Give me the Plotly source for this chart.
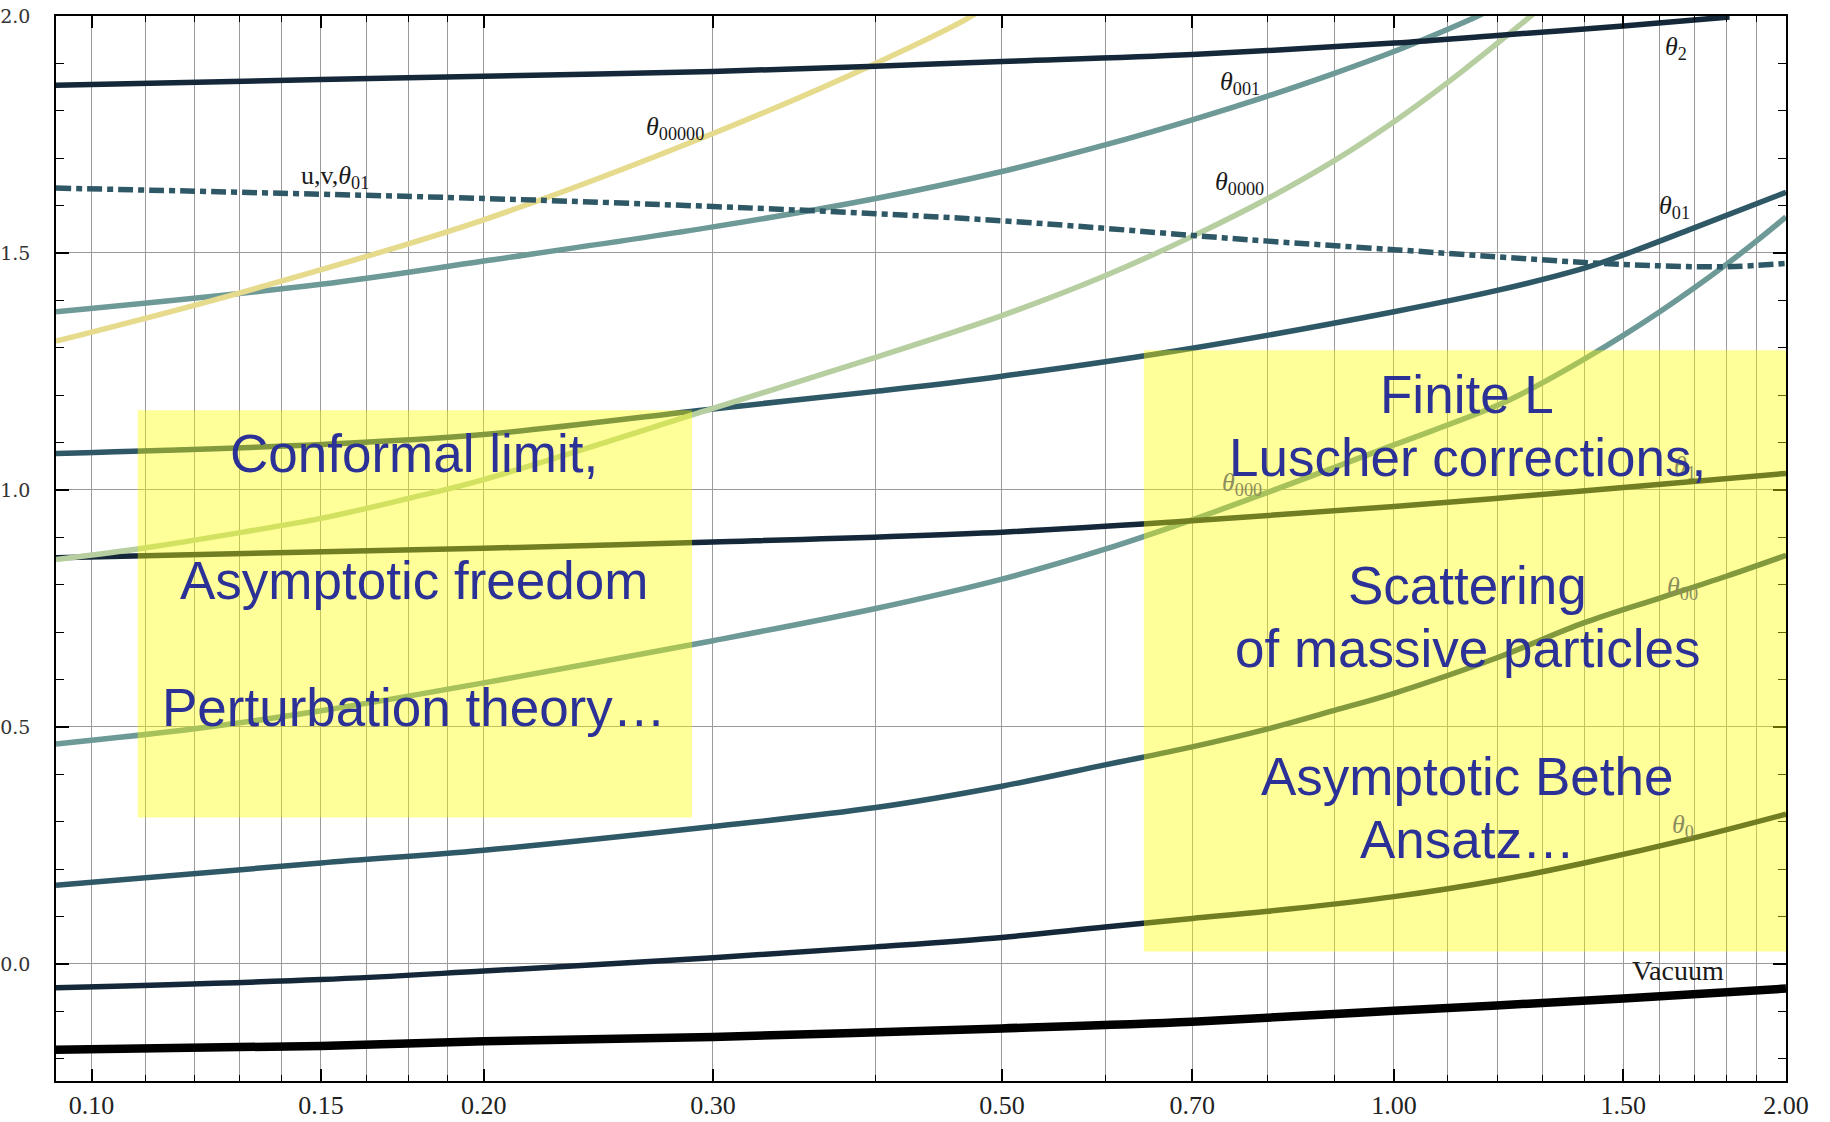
import math
import plotly.graph_objects as go

# ---------------- data ----------------
x_theta2 = [0.0939, 0.15, 0.2, 0.3, 0.4, 0.5, 0.7, 1.0, 1.2, 1.5, 1.81]
y_theta2 = [1.854, 1.866, 1.873, 1.883, 1.894, 1.904, 1.919, 1.943, 1.959, 1.979, 1.998]

x_uv = [0.0939, 0.2, 0.3, 0.4, 0.5, 0.6, 0.7, 0.8, 1.0, 1.2, 1.4, 1.6, 1.8, 2.0]
y_uv = [1.637, 1.615, 1.598, 1.583, 1.568, 1.552, 1.537, 1.525, 1.507, 1.492, 1.480, 1.473, 1.471, 1.478]

x_t00000 = [0.0939, 0.13, 0.2, 0.3, 0.4, 0.474, 0.49]
y_t00000 = [1.314, 1.416, 1.570, 1.752, 1.900, 2.0, 2.03]

x_t001 = [0.0939, 0.15, 0.2, 0.3, 0.4, 0.5, 0.6, 0.7, 0.8, 0.9, 1.0, 1.1, 1.16, 1.18]
y_t001 = [1.376, 1.434, 1.483, 1.555, 1.615, 1.672, 1.728, 1.781, 1.831, 1.879, 1.925, 1.972, 2.0, 2.01]

x_t0000 = [0.0939, 0.11, 0.13, 0.15, 0.175, 0.2, 0.3, 0.4, 0.5, 0.6, 0.7, 0.8, 0.9, 1.0, 1.1, 1.2, 1.3]
y_t0000 = [0.853, 0.878, 0.910, 0.940, 0.982, 1.022, 1.172, 1.280, 1.368, 1.452, 1.535, 1.615, 1.695, 1.777, 1.860, 1.942, 2.02]

x_t01 = [0.0939, 0.15, 0.2, 0.3, 0.4, 0.5, 0.7, 1.0, 1.2, 1.4, 1.5, 1.7, 2.0]
y_t01 = [1.077, 1.096, 1.117, 1.171, 1.208, 1.240, 1.299, 1.376, 1.421, 1.468, 1.496, 1.553, 1.628]

x_t1 = [0.0939, 0.2, 0.3, 0.5, 0.7, 1.0, 1.5, 2.0]
y_t1 = [0.857, 0.877, 0.890, 0.911, 0.935, 0.965, 1.005, 1.035]

x_t000 = [0.0939, 0.12, 0.15, 0.2, 0.3, 0.4, 0.5, 0.6, 0.7, 0.8, 1.0, 1.2, 1.3, 1.4, 1.5, 1.6, 1.7, 1.8, 1.9, 2.0]
y_t000 = [0.464, 0.496, 0.534, 0.593, 0.682, 0.750, 0.812, 0.875, 0.937, 0.995, 1.095, 1.178, 1.226, 1.276, 1.326, 1.376, 1.426, 1.476, 1.526, 1.576]

x_t00 = [0.0939, 0.15, 0.2, 0.3, 0.4, 0.5, 0.6, 0.7, 0.8, 0.9, 1.0, 1.2, 1.4, 1.6, 1.8, 2.0]
y_t00 = [0.166, 0.213, 0.240, 0.290, 0.330, 0.375, 0.420, 0.458, 0.496, 0.535, 0.571, 0.646, 0.720, 0.772, 0.818, 0.862]

x_t0 = [0.0939, 0.15, 0.2, 0.3, 0.4, 0.5, 0.6, 0.7, 0.8, 1.0, 1.2, 1.4, 1.7, 2.0]
y_t0 = [-0.050, -0.033, -0.015, 0.013, 0.036, 0.056, 0.078, 0.096, 0.111, 0.142, 0.176, 0.213, 0.266, 0.316]

x_vac = [0.0939, 0.15, 0.2, 0.3, 0.5, 0.7, 1.0, 1.5, 2.0]
y_vac = [-0.181, -0.173, -0.163, -0.154, -0.136, -0.122, -0.099, -0.073, -0.052]

x_major = [0.1, 0.15, 0.2, 0.3, 0.5, 0.7, 1.0, 1.5, 2.0]
x_major_text = ["0.10", "0.15", "0.20", "0.30", "0.50", "0.70", "1.00", "1.50", "2.00"]
x_minor = [0.11, 0.12, 0.13, 0.14, 0.1625, 0.175, 0.1875, 0.4, 0.6, 0.8, 0.9,
           1.1, 1.2, 1.3, 1.4, 1.6, 1.7, 1.8, 1.9]
y_major = [0.0, 0.5, 1.0, 1.5, 2.0]
y_major_text = ["0.0", "0.5", "1.0", "1.5", "2.0"]
y_minor = [-0.2, -0.1, 0.1, 0.2, 0.3, 0.4, 0.6, 0.7, 0.8, 0.9, 1.1, 1.2, 1.3, 1.4,
           1.6, 1.7, 1.8, 1.9]

# curve labels: (text, x, y, inside-box?)
curve_labels = [
    ("<i>θ</i><sub>00000</sub>", 0.2805, 1.763, False),
    ("u,v,<i>θ</i><sub>01</sub>", 0.1538, 1.660, False),
    ("<i>θ</i><sub>001</sub>", 0.7617, 1.858, False),
    ("<i>θ</i><sub>0000</sub>", 0.7617, 1.647, False),
    ("<i>θ</i><sub>2</sub>", 1.646, 1.932, False),
    ("<i>θ</i><sub>01</sub>", 1.643, 1.597, False),
    ("<i>θ</i><sub>000</sub>", 0.7643, 1.013, True),
    ("<i>θ</i><sub>1</sub>", 1.673, 1.048, True),
    ("<i>θ</i><sub>00</sub>", 1.667, 0.793, True),
    ("<i>θ</i><sub>0</sub>", 1.667, 0.292, True),
    ("Vacuum", 1.652, -0.014, False),
]

# region boxes (x0, x1, y0, y1)
box_left = (0.1085, 0.2891, 0.309, 1.168)
box_right = (0.6427, 2.02, 0.0264, 1.295)

text_left = [("Conformal limit,", 0.1768, 1.078),
             ("Asymptotic freedom", 0.1768, 0.808),
             ("Perturbation theory…", 0.1768, 0.541)]
text_right = [("Finite L", 1.138, 1.201),
              ("Luscher corrections,", 1.138, 1.069),
              ("Scattering", 1.138, 0.798),
              ("of massive particles", 1.138, 0.665),
              ("Asymptotic Bethe", 1.138, 0.395),
              ("Ansatz…", 1.138, 0.262)]

# ---------------- styles ----------------
NAVY = "#14283a"
TEAL = "#2f5866"
GREYTEAL = "#6d9996"
SAGE = "#b6cea0"
PALEY = "#e6da8c"

fig = go.Figure()

def add_curve(x, y, color, width=5.5, dash=None):
    fig.add_trace(go.Scatter(
        x=x, y=y, mode="lines",
        line=dict(color=color, width=width, shape="spline", smoothing=1.0,
                  dash=dash if dash else "solid"),
        showlegend=False, hoverinfo="skip"))

add_curve(x_vac, y_vac, "#000000", width=8.5)
add_curve(x_t0, y_t0, NAVY)
add_curve(x_t00, y_t00, TEAL)
add_curve(x_t000, y_t000, GREYTEAL)
add_curve(x_t1, y_t1, NAVY)
add_curve(x_t01, y_t01, TEAL)
add_curve(x_t0000, y_t0000, SAGE)
add_curve(x_t001, y_t001, GREYTEAL)
add_curve(x_t00000, y_t00000, PALEY)
add_curve(x_uv, y_uv, TEAL, dash="15px,5px,6px,5px")
add_curve(x_theta2, y_theta2, NAVY)

shapes = []
for (x0, x1, y0, y1) in (box_left, box_right):
    shapes.append(dict(type="rect", xref="x", yref="y", x0=x0, x1=x1, y0=y0, y1=y1,
                       fillcolor="rgba(255,255,0,0.40)", line=dict(width=0),
                       layer="above"))

annotations = []
for (t, xv, yv, inside) in curve_labels:
    annotations.append(dict(
        x=math.log10(xv), y=yv, xref="x", yref="y", text=t, showarrow=False,
        font=dict(family="Liberation Serif, Times New Roman, serif",
                  size=28 if t == "Vacuum" else 26,
                  color="#8c8c5e" if inside else "#1a1a1a"),
        xanchor="center", yanchor="middle"))

for (t, xv, yv) in text_left + text_right:
    annotations.append(dict(
        x=math.log10(xv), y=yv, xref="x", yref="y", text=t, showarrow=False,
        font=dict(family="Liberation Sans, Arial, sans-serif", size=53, color="#2b3196"),
        xanchor="center", yanchor="middle"))

GRID = "#9a9a9a"
fig.update_layout(
    width=1830, height=1122,
    margin=dict(l=56, r=44, t=15.7, b=40.5, autoexpand=False),
    paper_bgcolor="white", plot_bgcolor="white",
    shapes=shapes, annotations=annotations,
    xaxis=dict(
        type="log", range=[math.log10(0.0939), math.log10(2.0)],
        automargin=False,
        tickmode="array", tickvals=x_major, ticktext=x_major_text,
        ticks="inside", ticklen=12, tickwidth=1.5, tickcolor="black",
        showgrid=True, gridcolor=GRID, gridwidth=1.4,
        minor=dict(tickmode="array", tickvals=x_minor, ticks="inside", ticklen=6,
                   tickwidth=1.3, tickcolor="black",
                   showgrid=True, gridcolor=GRID, gridwidth=1.4),
        showline=True, linecolor="black", linewidth=1.6, mirror="ticks",
        zeroline=False,
        tickfont=dict(family="Liberation Serif, Times New Roman, serif", size=26, color="#222"),
        ticklabelstandoff=0,
    ),
    yaxis=dict(
        range=[-0.247, 2.0],
        automargin=False,
        tickmode="array", tickvals=y_major, ticktext=y_major_text,
        ticks="inside", ticklen=13, tickwidth=1.5, tickcolor="black",
        showgrid=True, gridcolor=GRID, gridwidth=1.4,
        minor=dict(tickmode="array", tickvals=y_minor, ticks="inside", ticklen=8,
                   tickwidth=1.3, tickcolor="black", showgrid=False),
        showline=True, linecolor="black", linewidth=1.6, mirror="ticks",
        zeroline=False,
        tickfont=dict(family="DejaVu Serif, serif", size=19, color="#333"),
        ticklabelstandoff=20,
    ),
)

fig.write_html(
    "out.html",
    config={"displayModeBar": False},
    post_script="document.body.style.margin='0px';document.body.style.overflow='hidden';",
)
